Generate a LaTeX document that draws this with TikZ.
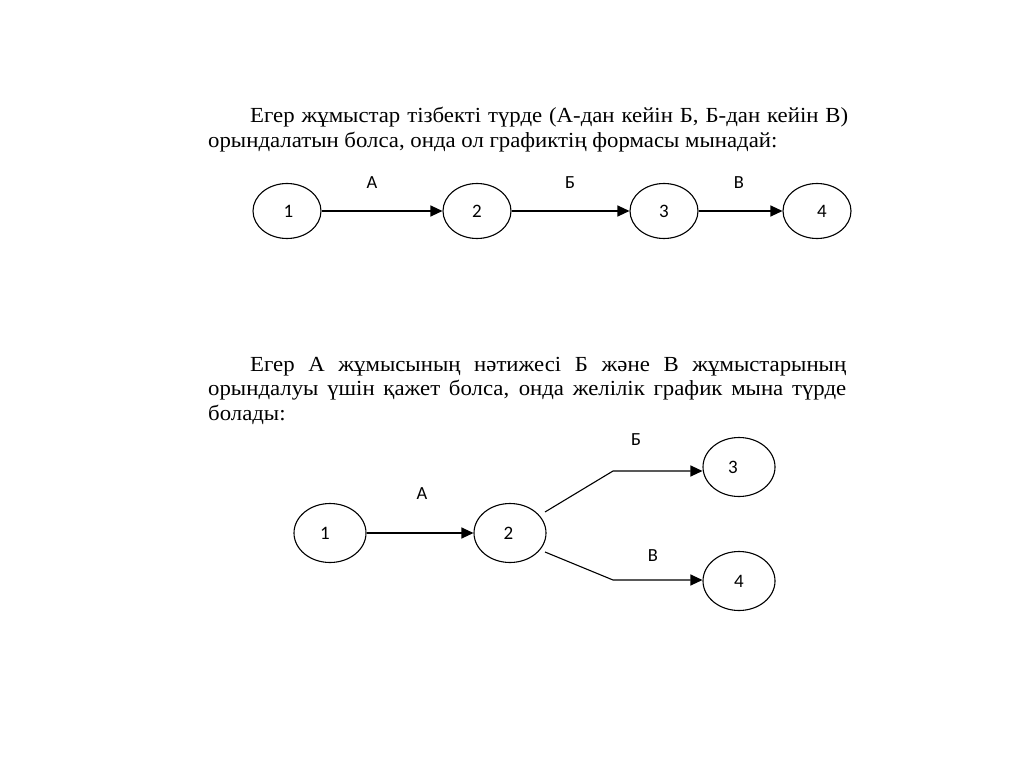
\documentclass[tikz,border=0pt]{standalone}
\usepackage{fontspec}
\setmainfont{Liberation Serif}[FakeStretch=1.06]
\newfontfamily\calfont{Carlito}
\usetikzlibrary{shapes.geometric,arrows.meta}
\begin{document}
\begin{tikzpicture}[x=1pt,y=-1pt,
  ev/.style={draw, ellipse, line width=1.1pt, inner sep=0pt, minimum width=68pt, minimum height=55pt, font=\calfont\fontsize{19}{19}\selectfont},
  evb/.style={ev, minimum width=72pt, minimum height=59pt},
  lab/.style={font=\calfont\fontsize{18.5}{18.5}\selectfont, inner sep=0pt},
  conn/.style={line width=1.1pt, -{Triangle[length=12pt,width=11pt]}},
  para/.style={anchor=base west, inner sep=0pt, font=\fontsize{21.5}{24}\selectfont}]
\fill[white] (0,0) rectangle (1024,767);
% first paragraph
\node[para] (p1a) at (250,123) {\makebox[598pt][s]{Егер жұмыстар тізбекті түрде (А-дан кейін Б, Б-дан кейін В)}};
\node[para] (p1b) at (208,148) {орындалатын болса, онда ол графиктің формасы мынадай:};
% top graph
\node[ev] (t1) at (287,211) {\hspace*{3pt}1};
\node[ev] (t2) at (477,211) {2};
\node[ev] (t3) at (664,211) {3};
\node[ev] (t4) at (817,211) {\hspace*{10pt}4};
\draw[conn] (t1) -- (t2);
\draw[conn] (t2) -- (t3);
\draw[conn] (t3) -- (t4);
\node[lab] (la) at (372,183) {А};
\node[lab] (lb) at (570,183) {Б};
\node[lab] (lc) at (739,183) {В};
% second paragraph
\node[para] (p2a) at (250,371) {\makebox[596pt][s]{Егер А жұмысының нәтижесі Б және В жұмыстарының}};
\node[para] (p2b) at (208,395) {\makebox[638pt][s]{орындалуы үшін қажет болса, онда желілік график мына түрде}};
\node[para] (p2c) at (208,420) {болады:};
% bottom graph
\node[evb] (b1) at (330,533) {1\hspace*{10pt}};
\node[evb] (b2) at (510,533) {2\hspace*{3pt}};
\node[evb] (b3) at (739,467) {3\hspace*{12pt}};
\node[evb] (b4) at (739,581) {4};
\coordinate (s3) at (545,512);
\coordinate (k3) at (613,471);
\coordinate (s4) at (545,552);
\coordinate (k4) at (613,580);
\draw[conn] (b1) -- (b2);
\draw[conn] (s3) -- (k3) -- (k3 -| b3.west);
\draw[conn] (s4) -- (k4) -- (k4 -| b4.west);
\node[lab] (ba) at (422,494) {А};
\node[lab] (bb) at (636,440) {Б};
\node[lab] (bc) at (653,556) {В};
\end{tikzpicture}
\end{document}
